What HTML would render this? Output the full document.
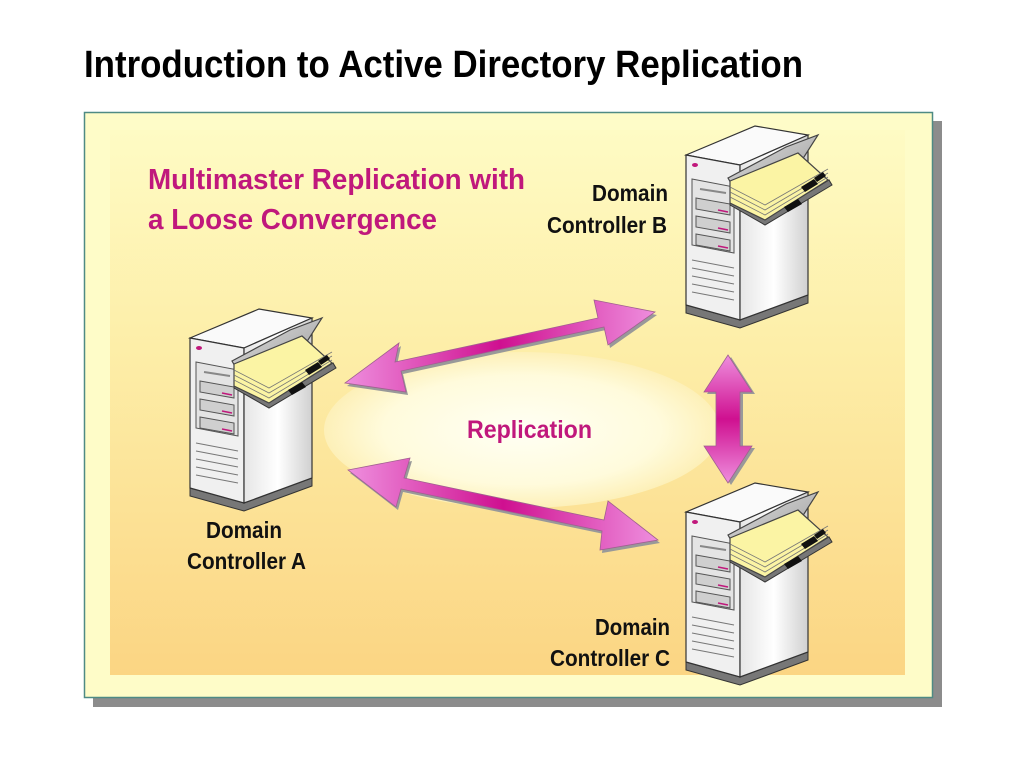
<!DOCTYPE html>
<html><head><meta charset="utf-8"><style>
html,body{margin:0;padding:0;background:#fff;width:1024px;height:768px;overflow:hidden}
svg text{font-family:"Liberation Sans Narrow","Liberation Sans",sans-serif;font-weight:bold}
</style></head><body>
<svg width="1024" height="768" viewBox="0 0 1024 768" xmlns="http://www.w3.org/2000/svg">
<defs>
<linearGradient id="bg" x1="0" y1="0" x2="0" y2="1">
<stop offset="0" stop-color="#fefbc4"/><stop offset="0.4" stop-color="#fdeea8"/><stop offset="1" stop-color="#fbd583"/>
</linearGradient>
<radialGradient id="ell" cx="0.5" cy="0.5" r="0.5">
<stop offset="0" stop-color="#fffff4"/><stop offset="0.7" stop-color="#fffbdc"/><stop offset="1" stop-color="#fdf0b8"/>
</radialGradient>
<linearGradient id="arr" x1="0" y1="0" x2="1" y2="0">
<stop offset="0" stop-color="#ee8ede"/><stop offset="0.5" stop-color="#cf1090"/><stop offset="1" stop-color="#ee8ede"/>
</linearGradient>
<linearGradient id="arrv" x1="0" y1="0" x2="0" y2="1">
<stop offset="0" stop-color="#ee8ede"/><stop offset="0.5" stop-color="#cf1090"/><stop offset="1" stop-color="#ee8ede"/>
</linearGradient>
<linearGradient id="side" x1="0" y1="0" x2="1" y2="0">
<stop offset="0" stop-color="#e6e6e6"/><stop offset="0.5" stop-color="#ffffff"/><stop offset="1" stop-color="#d0d0d0"/>
</linearGradient>
<linearGradient id="cov" x1="0" y1="0" x2="1" y2="1">
<stop offset="0" stop-color="#e0e0e0"/><stop offset="1" stop-color="#9a9a9a"/>
</linearGradient>
<g id="srv">
<polygon points="0,150 54,165 122,140 122,148 54,173 0,158" fill="#777" stroke="#333" stroke-width="1"/>
<polygon points="0,0 69,-29 122,-20 54,10" fill="#fafafa" stroke="#333" stroke-width="1.2"/>
<polygon points="0,0 54,10 54,165 0,150" fill="#f0f0f0" stroke="#333" stroke-width="1.2"/>
<polygon points="54,10 122,-20 122,140 54,165" fill="url(#side)" stroke="#333" stroke-width="1.2"/>
<ellipse cx="9" cy="10" rx="3" ry="2" fill="#c0187c"/>
<polygon points="6,24 48,32 48,98 6,90" fill="#e4e4e4" stroke="#555" stroke-width="1"/>
<line x1="14" y1="34" x2="40" y2="38" stroke="#888" stroke-width="2"/>
<polygon points="10,43 44,49 44,60 10,54" fill="#cfcfcf" stroke="#555"/>
<polygon points="10,61 44,67 44,78 10,72" fill="#cfcfcf" stroke="#555"/>
<polygon points="10,79 44,85 44,96 10,90" fill="#cfcfcf" stroke="#555"/>
<line x1="32" y1="55" x2="42" y2="57" stroke="#c0187c" stroke-width="1.5"/>
<line x1="32" y1="73" x2="42" y2="75" stroke="#c0187c" stroke-width="1.5"/>
<line x1="32" y1="91" x2="42" y2="93" stroke="#c0187c" stroke-width="1.5"/>
<g stroke="#777" stroke-width="1"><line x1="6" y1="105" x2="48" y2="113"/><line x1="6" y1="113" x2="48" y2="121"/><line x1="6" y1="121" x2="48" y2="129"/><line x1="6" y1="129" x2="48" y2="137"/><line x1="6" y1="137" x2="48" y2="145"/></g>
<polygon points="44,50 79,70 146,30 143,25 79,64 44,46" fill="#777" stroke="#333" stroke-width="1"/>
<polygon points="42,23 100,-8 132,-20 116,5 114,10 74,40 46,30" fill="url(#cov)" stroke="#444" stroke-width="1.2"/>
<polygon points="44,26 112,-2 142,25 79,65 44,48" fill="#fbf4a4" stroke="#444" stroke-width="1.2"/>
<g stroke="#777" stroke-width="0.8" fill="none"><polyline points="44,32 79,50 142,14"/><polyline points="44,37 79,55 142,18"/><polyline points="44,42 79,60 142,22"/></g>
<polygon points="115,32 128,24 132,29 119,37" fill="#111"/>
<polygon points="128,23 137,17 140,21 131,27" fill="#111"/>
<polygon points="98,52 112,44 116,49 102,57" fill="#111"/>
</g>
</defs>
<rect x="0" y="0" width="1024" height="768" fill="#fff"/>
<text x="84" y="77" font-size="38" fill="#000" textLength="719" lengthAdjust="spacingAndGlyphs">Introduction to Active Directory Replication</text>
<rect x="93" y="121" width="849" height="586" fill="#8c8c8c"/>
<rect x="84.5" y="112.5" width="848" height="585" fill="#fefcc8" stroke="#4e8a84" stroke-width="1.5"/>
<rect x="110" y="130" width="795" height="545" fill="url(#bg)"/>
<ellipse cx="522" cy="430" rx="198" ry="78" fill="url(#ell)"/>
<text x="148" y="189" font-size="29" fill="#c0187c" textLength="377" lengthAdjust="spacingAndGlyphs">Multimaster Replication with</text>
<text x="148" y="229" font-size="29" fill="#c0187c" textLength="289" lengthAdjust="spacingAndGlyphs">a Loose Convergence</text>
<g fill="url(#arr)" stroke="#a06090" stroke-width="0.8">
<polygon points="345,383 399,343 395,362 598,318 594,300 655,312 608,345 604,327 401,371 406,392" transform="translate(2,3)" fill="#999" stroke="none"/>
<polygon points="345,383 399,343 395,362 598,318 594,300 655,312 608,345 604,327 401,371 406,392"/>
<polygon points="348,470 410,458 404,478 604,520 608,501 658,540 600,550 602,531 401,489 396,507" transform="translate(2,3)" fill="#999" stroke="none"/>
<polygon points="348,470 410,458 404,478 604,520 608,501 658,540 600,550 602,531 401,489 396,507"/>
</g>
<polygon points="728,355 752,392 740,392 740,446 752,446 728,483 704,446 716,446 716,392 704,392" transform="translate(3,2)" fill="#999"/>
<polygon points="728,355 752,392 740,392 740,446 752,446 728,483 704,446 716,446 716,392 704,392" fill="url(#arrv)" stroke="#a06090" stroke-width="0.8"/>
<text x="467" y="438" font-size="25" fill="#c0187c" textLength="125" lengthAdjust="spacingAndGlyphs">Replication</text>
<use href="#srv" transform="translate(686,155)"/>
<use href="#srv" transform="translate(190,338)"/>
<use href="#srv" transform="translate(686,512)"/>
<g font-size="23" fill="#111">
<text x="592" y="201" textLength="76" lengthAdjust="spacingAndGlyphs">Domain</text>
<text x="547" y="233" textLength="120" lengthAdjust="spacingAndGlyphs">Controller B</text>
<text x="206" y="538" textLength="76" lengthAdjust="spacingAndGlyphs">Domain</text>
<text x="187" y="569" textLength="119" lengthAdjust="spacingAndGlyphs">Controller A</text>
<text x="595" y="635" textLength="75" lengthAdjust="spacingAndGlyphs">Domain</text>
<text x="550" y="666" textLength="120" lengthAdjust="spacingAndGlyphs">Controller C</text>
</g>
</svg>
</body></html>
